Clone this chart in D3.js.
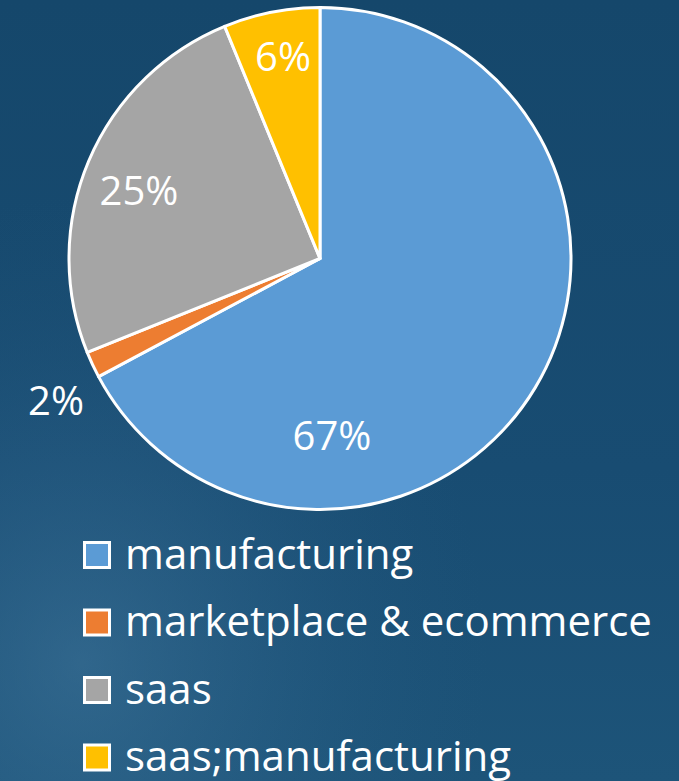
<!DOCTYPE html>
<html><head><meta charset="utf-8">
<script src="https://cdn.jsdelivr.net/npm/d3@7"></script>
<style>html,body{margin:0;padding:0;background:#16496d;overflow:hidden}</style>
</head><body>
<svg id="chart" width="679" height="781"></svg>
<script>
const categories = ["manufacturing", "marketplace & ecommerce", "saas", "saas;manufacturing"];
const values = [67.2, 1.7, 24.9, 6.2];
const colors = ["#5B9BD5", "#ED7D31", "#A5A5A5", "#FFC000"];

const W = 679, H = 781;
const cx = 320, cy = 258.5, R = 251;
const labelOffsets = [[12, 191], [-264, 156], [-181, -54], [-37, -188]];

const svg = d3.select("#chart");
const defs = svg.append("defs");
const lg = defs.append("linearGradient").attr("id","bg").attr("x1",0).attr("y1",0).attr("x2",0).attr("y2",1);
lg.append("stop").attr("offset","0").attr("stop-color","#15476b");
lg.append("stop").attr("offset","0.6").attr("stop-color","#184c72");
lg.append("stop").attr("offset","1").attr("stop-color","#1d5479");
const rg = defs.append("radialGradient").attr("id","glow").attr("cx",0.12).attr("cy",0.85).attr("r",0.6);
rg.append("stop").attr("offset","0").attr("stop-color","#4a80a6").attr("stop-opacity",0.45);
rg.append("stop").attr("offset","0.6").attr("stop-color","#3a719a").attr("stop-opacity",0.15);
rg.append("stop").attr("offset","1").attr("stop-color","#2a6088").attr("stop-opacity",0);
svg.append("rect").attr("width",W).attr("height",H).attr("fill","url(#bg)");
svg.append("rect").attr("width",W).attr("height",H).attr("fill","url(#glow)");

const pie = d3.pie().sort(null).value(d => d)(values);
const arc = d3.arc().innerRadius(0).outerRadius(R);
const g = svg.append("g").attr("transform", `translate(${cx},${cy})`);
g.selectAll("path").data(pie).join("path")
  .attr("d", arc).attr("fill", (d,i) => colors[i])
  .attr("stroke", "#fff").attr("stroke-width", 3).attr("stroke-linejoin","round");

const total = d3.sum(values);
const fmt = v => Math.round(v / total * 100) + "%";
g.selectAll("text.lbl").data(pie).join("text")
  .attr("class","lbl")
  .attr("x", (d,i) => labelOffsets[i][0]).attr("y", (d,i) => labelOffsets[i][1])
  .attr("text-anchor","middle")
  .attr("font-family","'Open Sans', sans-serif").attr("font-size",40)
  .attr("fill","#fff").text(d => fmt(d.value));

const leg = svg.append("g");
const rows = leg.selectAll("g").data(categories).join("g")
  .attr("transform", (d,i) => `translate(84.5, ${542.5 + i*67.5})`);
rows.append("rect").attr("width",25).attr("height",25)
  .attr("fill",(d,i)=>colors[i]).attr("stroke","#fff").attr("stroke-width",3);
rows.append("text").attr("x", 40.5).attr("y", 26)
  .attr("font-family","'Open Sans', sans-serif").attr("font-size",42)
  .attr("fill","#fff").text(d => d);
</script>
</body></html>
